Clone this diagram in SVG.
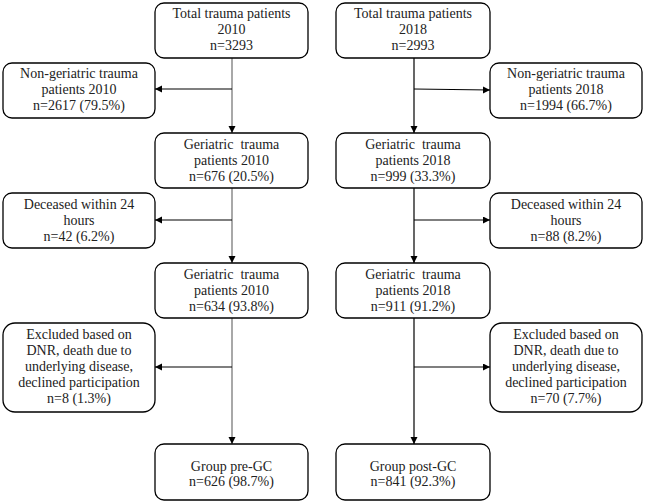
<svg xmlns="http://www.w3.org/2000/svg" width="646" height="503" viewBox="0 0 646 503">
<style>
.box{fill:#fff;stroke:#000;stroke-width:1.3}
text{font-family:"Liberation Serif","Times New Roman",serif;font-size:14px;fill:#222;text-anchor:middle}
.sp{white-space:pre}
.c{fill:none;stroke:#000;stroke-width:1.2}
.g{stroke:#6e6e6e}
</style>
<defs>
<marker id="ah" markerUnits="userSpaceOnUse" markerWidth="8" markerHeight="8" refX="7" refY="3.5" orient="auto">
<path d="M0,0 L7,3.5 L0,7 z" fill="#000"/>
</marker>
</defs>
<g id="connectors">
<line class="c g" x1="232" y1="58" x2="232" y2="133" marker-end="url(#ah)"/>
<line class="c" x1="232" y1="89" x2="155" y2="89" marker-end="url(#ah)"/>
<line class="c g" x1="232" y1="188" x2="232" y2="263" marker-end="url(#ah)"/>
<line class="c" x1="232" y1="220" x2="155" y2="220" marker-end="url(#ah)"/>
<line class="c g" x1="232" y1="318" x2="232" y2="444" marker-end="url(#ah)"/>
<line class="c" x1="232" y1="367" x2="155" y2="367" marker-end="url(#ah)"/>
<line class="c" x1="414" y1="58" x2="414" y2="133" marker-end="url(#ah)"/>
<line class="c" x1="414" y1="89" x2="490" y2="90" marker-end="url(#ah)"/>
<line class="c" x1="414" y1="188" x2="414" y2="263" marker-end="url(#ah)"/>
<line class="c" x1="414" y1="220" x2="490" y2="220" marker-end="url(#ah)"/>
<line class="c" x1="414" y1="318" x2="414" y2="444" marker-end="url(#ah)"/>
<line class="c" x1="414" y1="367" x2="490" y2="367" marker-end="url(#ah)"/>
</g>
<g id="total2010"><rect class="box" x="155" y="3" width="153" height="55" rx="9"/>
<text x="231.5" y="18">Total trauma patients</text><text x="231.5" y="34">2010</text><text x="231.5" y="50">n=3293</text></g>
<g id="nongeri2010"><rect class="box" x="3" y="63" width="152" height="55" rx="9"/>
<text x="79" y="78">Non-geriatric trauma</text><text x="79" y="94">patients 2010</text><text x="79" y="110">n=2617 (79.5%)</text></g>
<g id="geri2010"><rect class="box" x="155" y="133" width="153" height="55" rx="9"/>
<text class="sp" x="231.5" y="149">Geriatric  trauma</text><text x="231.5" y="165">patients 2010</text><text x="231.5" y="181">n=676 (20.5%)</text></g>
<g id="dec2010"><rect class="box" x="3" y="193" width="152" height="55" rx="9"/>
<text x="79" y="209">Deceased within 24</text><text x="79" y="225">hours</text><text x="79" y="241">n=42 (6.2%)</text></g>
<g id="geri634"><rect class="box" x="155" y="263" width="153" height="55" rx="9"/>
<text class="sp" x="231.5" y="279">Geriatric  trauma</text><text x="231.5" y="295">patients 2010</text><text x="231.5" y="311">n=634 (93.8%)</text></g>
<g id="excl2010"><rect class="box" x="3" y="323" width="152" height="89" rx="12"/>
<text x="79" y="339">Excluded based on</text><text x="79" y="355">DNR, death due to</text><text x="79" y="371">underlying disease,</text><text x="79" y="387">declined participation</text><text x="79" y="403">n=8 (1.3%)</text></g>
<g id="pregc"><rect class="box" x="155" y="444" width="153" height="56" rx="9"/>
<text x="231.5" y="471">Group pre-GC</text><text x="231.5" y="486">n=626 (98.7%)</text></g>

<g id="total2018"><rect class="box" x="336" y="3" width="154" height="55" rx="9"/>
<text x="413" y="18">Total trauma patients</text><text x="413" y="34">2018</text><text x="413" y="50">n=2993</text></g>
<g id="nongeri2018"><rect class="box" x="490" y="63" width="152" height="55" rx="9"/>
<text x="566" y="78">Non-geriatric trauma</text><text x="566" y="94">patients 2018</text><text x="566" y="110">n=1994 (66.7%)</text></g>
<g id="geri2018"><rect class="box" x="336" y="133" width="154" height="55" rx="9"/>
<text class="sp" x="413" y="149">Geriatric  trauma</text><text x="413" y="165">patients 2018</text><text x="413" y="181">n=999 (33.3%)</text></g>
<g id="dec2018"><rect class="box" x="490" y="193" width="152" height="55" rx="9"/>
<text x="566" y="209">Deceased within 24</text><text x="566" y="225">hours</text><text x="566" y="241">n=88 (8.2%)</text></g>
<g id="geri911"><rect class="box" x="336" y="263" width="154" height="55" rx="9"/>
<text class="sp" x="413" y="279">Geriatric  trauma</text><text x="413" y="295">patients 2018</text><text x="413" y="311">n=911 (91.2%)</text></g>
<g id="excl2018"><rect class="box" x="490" y="323" width="152" height="89" rx="12"/>
<text x="566" y="339">Excluded based on</text><text x="566" y="355">DNR, death due to</text><text x="566" y="371">underlying disease,</text><text x="566" y="387">declined participation</text><text x="566" y="403">n=70 (7.7%)</text></g>
<g id="postgc"><rect class="box" x="336" y="444" width="154" height="56" rx="9"/>
<text x="413" y="471">Group post-GC</text><text x="413" y="486">n=841 (92.3%)</text></g>
</svg>
